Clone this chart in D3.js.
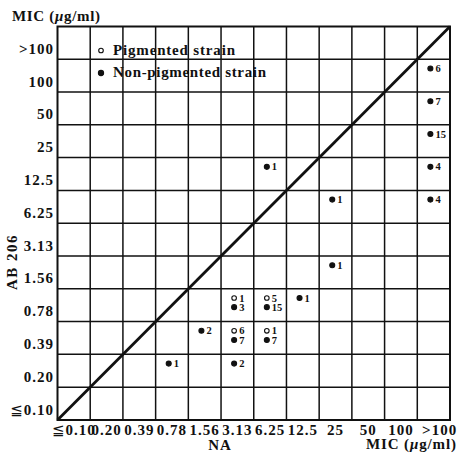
<!DOCTYPE html>
<html>
<head>
<meta charset="utf-8">
<script src="https://cdn.jsdelivr.net/npm/d3@7"></script>
<style>
	body { margin: 0; background: #fff; }
	svg text { font-family: "Liberation Serif", "DejaVu Serif", serif; fill: #111; font-weight: bold; }
	svg tspan.le { font-family: "DejaVu Sans", sans-serif; font-weight: normal; }
</style>
</head>
<body>
<div id="chart"></div>
<script>
// MIC categories (same on both axes)
var micCats = ["≦0.10", "0.20", "0.39", "0.78", "1.56", "3.13", "6.25", "12.5", "25", "50", "100", ">100"];

// strains: NA mic, AB 206 mic, pigmented?, number of strains, slot in cell
var ptNA    = ["3.13", "6.25", "3.13", "6.25", "3.13", "6.25", "3.13", "6.25", "12.5", "25", "25", "6.25", ">100", ">100", ">100", ">100", ">100", "0.78", "1.56", "3.13"];
var ptAB    = ["0.78", "0.78", "0.39", "0.39", "0.78", "0.78", "0.39", "0.39", "0.78", "1.56", "6.25", "12.5", "100", "50", "25", "12.5", "6.25", "0.20", "0.39", "0.20"];
var ptPig   = [true, true, true, true, false, false, false, false, false, false, false, false, false, false, false, false, false, false, false, false];
var ptCount = [1, 5, 6, 1, 3, 15, 7, 7, 1, 1, 1, 1, 6, 7, 15, 4, 4, 1, 2, 2];
var ptSlot  = [0, 0, 0, 0, 1, 1, 1, 1, 0, 0, 0, 0, 0, 0, 0, 0, 0, 0, 0, 0];

var legendLabels = ["Pigmented strain", "Non-pigmented strain"];

var width = 457, height = 454;
var plotL = 57.5, plotR = 450, plotT = 26.5, plotB = 420;

var svg = d3.select("#chart").append("svg")
	.attr("width", width)
	.attr("height", height);

var x = d3.scaleBand().domain(micCats).range([plotL, plotR]);
var y = d3.scaleBand().domain(micCats).range([plotB, plotT]);
var bw = x.bandwidth();

// grid
var grid = svg.append("g").attr("stroke", "#111").attr("stroke-width", 1.5);
grid.selectAll("line.v")
	.data(micCats.slice(1))
	.enter().append("line").attr("class", "v")
	.attr("x1", d => x(d)).attr("x2", d => x(d))
	.attr("y1", plotT).attr("y2", plotB);
grid.selectAll("line.h")
	.data(micCats.slice(1))
	.enter().append("line").attr("class", "h")
	.attr("y1", d => y(d) + bw).attr("y2", d => y(d) + bw)
	.attr("x1", plotL).attr("x2", plotR);

svg.append("rect")
	.attr("x", plotL).attr("y", plotT)
	.attr("width", plotR - plotL).attr("height", plotB - plotT)
	.attr("fill", "none").attr("stroke", "#111").attr("stroke-width", 2);

// diagonal
svg.append("line")
	.attr("x1", x(micCats[0])).attr("y1", y(micCats[0]) + bw)
	.attr("x2", x(micCats[micCats.length - 1]) + bw).attr("y2", y(micCats[micCats.length - 1]))
	.attr("stroke", "#111").attr("stroke-width", 2.8);

// tick label with the ≦ sign in a font that has it
function tickText(sel) {
	sel.each(function(d) {
		var t = d3.select(this);
		if (d.charAt(0) == "≦") {
			t.append("tspan").attr("class", "le").text("≦");
			t.append("tspan").text(d.slice(1));
		} else {
			t.text(d);
		}
	});
}

svg.append("g").selectAll("text")
	.data(micCats)
	.enter().append("text")
	.attr("x", d => x(d) + bw / 2 + (d == ">100" ? 6 : 0))
	.attr("y", 435)
	.attr("text-anchor", "middle")
	.attr("font-size", 15)
	.attr("letter-spacing", 1)
	.call(tickText);

svg.append("g").selectAll("text")
	.data(micCats)
	.enter().append("text")
	.attr("x", 54)
	.attr("y", d => y(d) + bw / 2 + 11)
	.attr("text-anchor", "end")
	.attr("font-size", 15)
	.attr("letter-spacing", 1)
	.call(tickText);

// axis titles
function micTitle(sel) {
	sel.append("tspan").text("MIC (");
	sel.append("tspan").attr("font-style", "italic").text("μ");
	sel.append("tspan").text("g/ml)");
}
svg.append("text").attr("x", 12).attr("y", 21).attr("font-size", 15)
	.attr("textLength", 88).attr("lengthAdjust", "spacing").call(micTitle);
svg.append("text").attr("x", 366).attr("y", 449).attr("font-size", 15)
	.attr("textLength", 90).attr("lengthAdjust", "spacing").call(micTitle);
svg.append("text").attr("x", 220).attr("y", 450).attr("font-size", 15)
	.attr("text-anchor", "middle").attr("letter-spacing", 1).text("NA");
svg.append("text")
	.attr("transform", "translate(17,262) rotate(-90)")
	.attr("text-anchor", "middle").attr("font-size", 15)
	.attr("letter-spacing", 1.5).text("AB 206");

// legend
var legend = svg.append("g");
legendLabels.forEach(function(lab, i) {
	var ly = 54.5 + i * 22.5;
	legend.append("circle")
		.attr("cx", 101).attr("cy", ly - 4)
		.attr("r", i == 0 ? 2.3 : 2.6)
		.attr("fill", i == 0 ? "#fff" : "#111")
		.attr("stroke", "#111").attr("stroke-width", 1.1);
	legend.append("text")
		.attr("x", 113).attr("y", ly)
		.attr("font-size", 15)
		.attr("font-weight", "normal")
		.attr("textLength", i == 0 ? 122 : 153)
		.attr("lengthAdjust", "spacing")
		.text(lab);
});

// points
var idx = d3.range(ptNA.length);
var px = i => x(ptNA[i]) + bw * 0.4;
var py = i => y(ptAB[i]) + bw * (ptSlot[i] == 0 ? 0.28 : 0.56);

var pts = svg.append("g");
pts.selectAll("circle")
	.data(idx)
	.enter().append("circle")
	.attr("cx", px).attr("cy", py)
	.attr("r", i => ptPig[i] ? 2.3 : 2.5)
	.attr("fill", i => ptPig[i] ? "#fff" : "#111")
	.attr("stroke", "#111").attr("stroke-width", 1.1);
pts.selectAll("text")
	.data(idx)
	.enter().append("text")
	.attr("x", i => px(i) + 5)
	.attr("y", i => py(i) + 3.6)
	.attr("font-size", 10.5)
	.text(i => ptCount[i]);
</script>
</body>
</html>
